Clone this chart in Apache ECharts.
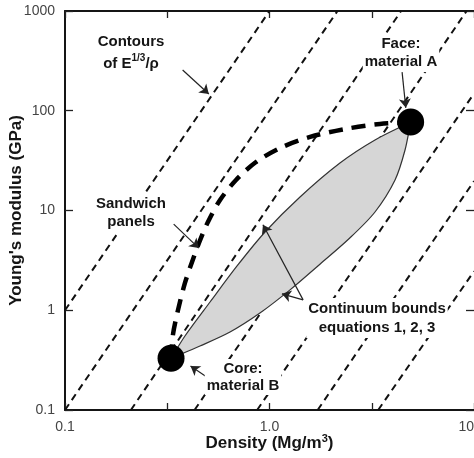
<!DOCTYPE html>
<html>
<head>
<meta charset="utf-8">
<script src="https://cdn.jsdelivr.net/npm/echarts@6/dist/echarts.min.js"></script>
<style>
  html, body { margin: 0; padding: 0; background: #fff; }
  #chart { width: 474px; height: 458px; }
</style>
</head>
<body>
<div id="chart"></div>
<script>
// tick labels
var xTickLabels = ["0.1", "1.0", "10"];
var yTickLabels = ["0.1", "1", "10", "100", "1000"];

// contours of E^(1/3)/rho : start / end points [density, modulus]
var contourStart = [[0.1, 1], [0.1, 0.1], [0.21, 0.1], [0.43, 0.1], [0.87, 0.1], [1.72, 0.1], [3.4, 0.1]];
var contourEnd = [[1.0, 1000], [2.15, 1000], [4.4, 1000], [9.2, 1000], [10, 149], [10, 19.7], [10, 2.46]];

// the two materials
var coreB = [0.33, 0.33];
var faceA = [4.9, 77];

// continuum bounds (upper and lower edge of the shaded lens)
var upperBound = [[0.33, 0.33], [0.386, 0.552], [0.512, 1.21], [0.694, 2.78], [0.951, 6.09], [1.41, 13.65], [2.21, 29.9], [3.28, 50.9], [4.9, 77]];
var lowerBound = [[0.33, 0.33], [0.457, 0.438], [0.641, 0.605], [0.898, 0.938], [1.26, 1.6], [1.77, 2.91], [2.47, 5.3], [3.28, 9.66], [4.11, 20.2], [4.6, 40.4], [4.9, 77]];

// sandwich panels curve
var sandwich = [[0.33, 0.33], [0.337, 0.565], [0.357, 1.006], [0.386, 1.876], [0.418, 3.05], [0.452, 4.72], [0.5, 7.67], [0.573, 12.74], [0.686, 20.2], [0.859, 30.6], [1.125, 42.3], [1.58, 54.6], [2.34, 65.6], [3.47, 73.7], [4.9, 77]];

// annotation arrows
var arrowTail = [[0.376, 256], [4.45, 244], [0.34, 7.3], [0.527, 0.195], [1.46, 1.27], [1.46, 1.27]];
var arrowHead = [[0.505, 147], [4.64, 107], [0.451, 4.2], [0.411, 0.276], [0.929, 7.2], [1.15, 1.46]];

var FONT = '"Liberation Sans", Arial, Helvetica, sans-serif';

function note(x, y, text, lh) {
  return {
    type: "text", x: x, y: y, z: 100,
    style: {
      text: text,
      fontFamily: FONT, fontSize: 15, fontWeight: "bold", fill: "#151515",
      align: "center", verticalAlign: "middle",
      textAlign: "center", textVerticalAlign: "middle",
      lineHeight: lh || 18,
      backgroundColor: "#fff", padding: [1, 2],
      rich: {
        sup: { fontFamily: FONT, fontSize: 10, fontWeight: "bold", fill: "#151515", lineHeight: 10, verticalAlign: "top" }
      }
    }
  };
}

var chart = echarts.init(document.getElementById("chart"));

var tickOnlyAxis = {
  type: "value", min: -1, max: 1, interval: 0.5,
  axisLine: { show: false, onZero: false },
  axisTick: { inside: true, length: 7, lineStyle: { color: "#222", width: 1.3 } },
  axisLabel: { show: false },
  splitLine: { show: false }
};

var option = {
  animation: false,
  grid: { left: 65, right: 0, top: 11, bottom: 48, outerBoundsMode: "none" },
  xAxis: [
    {
      type: "log", logBase: 10, min: 0.1, max: 10, position: "bottom",
      name: "Density (Mg/m{sup|3})", nameLocation: "middle", nameGap: 23, nameMoveOverlap: false,
      nameTextStyle: {
        fontFamily: FONT, fontSize: 17, fontWeight: "bold", color: "#151515", lineHeight: 20,
        rich: { sup: { fontFamily: FONT, fontSize: 11, fontWeight: "bold", color: "#151515", lineHeight: 11, verticalAlign: "top" } }
      },
      axisLine: { onZero: false, lineStyle: { color: "#151515", width: 2 } },
      axisTick: { show: false },
      axisLabel: {
        margin: 10, fontFamily: FONT, fontSize: 14, color: "#444", alignMaxLabel: "right",
        formatter: function (v) { return xTickLabels[Math.round(Math.log10(v)) + 1]; }
      },
      splitLine: { show: false }
    },
    Object.assign({ position: "bottom" }, tickOnlyAxis),
    Object.assign({}, tickOnlyAxis, {
      position: "top",
      axisLine: { show: true, onZero: false, lineStyle: { color: "#151515", width: 2 } }
    })
  ],
  yAxis: [
    {
      type: "log", logBase: 10, min: 0.1, max: 1000, position: "left",
      name: "Young's modulus (GPa)", nameLocation: "middle", nameGap: 40, nameMoveOverlap: false,
      nameTextStyle: { fontFamily: FONT, fontSize: 17, fontWeight: "bold", color: "#151515" },
      axisLine: { onZero: false, lineStyle: { color: "#151515", width: 2 } },
      axisTick: { inside: true, length: 8, lineStyle: { color: "#222", width: 1.3 } },
      axisLabel: {
        margin: 10, fontFamily: FONT, fontSize: 14, color: "#444",
        formatter: function (v) { return yTickLabels[Math.round(Math.log10(v)) + 1]; }
      },
      splitLine: { show: false }
    },
    {
      type: "log", logBase: 10, min: 0.1, max: 1000, position: "right",
      axisLine: { show: false, onZero: false },
      axisTick: { inside: true, length: 8, lineStyle: { color: "#222", width: 1.3 } },
      axisLabel: { show: false },
      splitLine: { show: false }
    }
  ],
  series: []
};

// dashed contour lines
contourStart.forEach(function (s, i) {
  option.series.push({
    type: "line", data: [s, contourEnd[i]], symbol: "none", silent: true, z: 1,
    lineStyle: { color: "#111", width: 2, type: [7, 5] }
  });
});

// shaded lens between the continuum bounds
option.series.push({
  type: "custom", data: [coreB], silent: true, z: 3,
  renderItem: function (params, api) {
    var up = upperBound.map(function (p) { return api.coord(p); });
    var lo = lowerBound.map(function (p) { return api.coord(p); });
    return {
      type: "polygon",
      shape: { points: up.concat(lo.slice().reverse()), smooth: 0.3 },
      style: { fill: "#d6d6d6", stroke: "#333", lineWidth: 1.2 }
    };
  }
});

// sandwich panels
option.series.push({
  type: "line", data: sandwich, smooth: 0.3, symbol: "none", silent: true, z: 4,
  lineStyle: { color: "#000", width: 4.5, type: [14, 9] }
});

// materials A and B, with the arrows
option.series.push({
  type: "scatter", data: [coreB, faceA], symbolSize: 27, silent: true, z: 5,
  itemStyle: { color: "#000", opacity: 1 },
  markLine: {
    silent: true, symbol: ["none", "arrow"], symbolSize: 9,
    label: { show: false },
    lineStyle: { color: "#222", width: 1.2, type: "solid" },
    data: arrowTail.map(function (t, i) { return [{ coord: t }, { coord: arrowHead[i] }]; })
  }
});

option.graphic = [
  note(131, 53, "Contours\nof E{sup|1/3}/ρ", 22),
  note(401, 53, "Face:\nmaterial A"),
  note(131, 213, "Sandwich\npanels"),
  note(377, 318, "Continuum bounds\nequations 1, 2, 3", 19),
  note(243, 377, "Core:\nmaterial B", 17)
];

chart.setOption(option);
</script>
</body>
</html>
